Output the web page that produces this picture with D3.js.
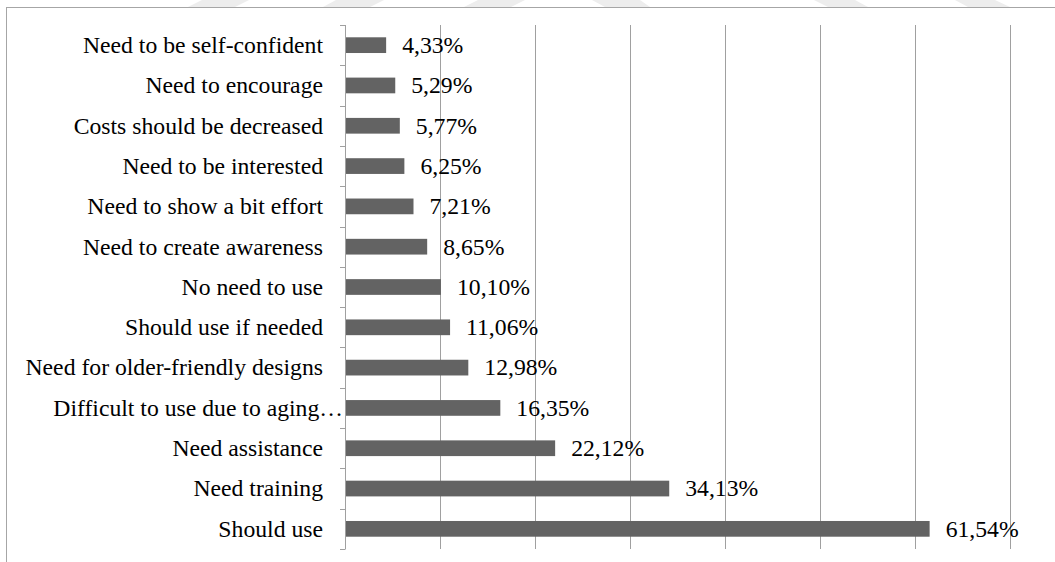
<!DOCTYPE html>
<html>
<head>
<meta charset="utf-8">
<script src="https://cdn.jsdelivr.net/npm/d3@7"></script>
<style>
  html, body { margin: 0; padding: 0; background: #fff; }
  svg { display: block; }
</style>
</head>
<body>
<svg id="chart" width="1055" height="562" font-family="'Liberation Serif', 'Times New Roman', Times, serif"></svg>
<script>
// Responses, listed top to bottom
const categories = [
  "Need to be self-confident",
  "Need to encourage",
  "Costs should be decreased",
  "Need to be interested",
  "Need to show a bit effort",
  "Need to create awareness",
  "No need to use",
  "Should use if needed",
  "Need for older-friendly designs",
  "Difficult to use due to aging…",
  "Need assistance",
  "Need training",
  "Should use"
];
const values = [4.33, 5.29, 5.77, 6.25, 7.21, 8.65, 10.10, 11.06, 12.98, 16.35, 22.12, 34.13, 61.54];
const gridTicks = [10, 20, 30, 40, 50, 60, 70];

const svg = d3.select("#chart");
const W = 1055, H = 562;
const plot = { left: 345, right: 1010, top: 25, bottom: 549 };
const serif = "'Liberation Serif', 'Times New Roman', Times, serif";
const fontSize = 23.7;

// faint background shapes along the top edge
const decor = [
  [[202, 0], [249, 0], [235, 7], [188, 7]],
  [[336, 0], [384, 0], [370, 7], [323, 7]],
  [[478, 0], [525, 0], [511, 7], [464, 7]],
  [[592, 0], [640, 0], [650, 7], [605, 7]],
  [[814, 0], [855, 0], [868, 7], [828, 7]],
  [[955, 0], [995, 0], [1010, 7], [968, 7]]
];
svg.selectAll("polygon.decor").data(decor).join("polygon")
  .attr("class", "decor")
  .attr("points", d => d.map(p => p.join(",")).join(" "))
  .attr("fill", "#ededed");

// chart frame
svg.append("rect")
  .attr("x", 6.5).attr("y", 7.5)
  .attr("width", W + 20).attr("height", H + 20)
  .attr("fill", "#fff")
  .attr("stroke", "#a6a6a6").attr("stroke-width", 1);

const x = d3.scaleLinear().domain([0, 70]).range([plot.left, plot.right]);
const y = d3.scaleBand().domain(categories)
  .range([plot.top, plot.bottom])
  .paddingInner(0.61).paddingOuter(0.305);

// vertical gridlines
svg.append("g").selectAll("line").data(gridTicks).join("line")
  .attr("x1", d => Math.round(x(d)) + 0.5).attr("x2", d => Math.round(x(d)) + 0.5)
  .attr("y1", plot.top).attr("y2", plot.bottom)
  .attr("stroke", "#a0a0a0").attr("stroke-width", 1);

// category axis with ticks on band boundaries
const step = y.step();
const axisG = svg.append("g");
axisG.append("line")
  .attr("x1", plot.left + 0.5).attr("x2", plot.left + 0.5)
  .attr("y1", plot.top).attr("y2", plot.bottom)
  .attr("stroke", "#a0a0a0");
axisG.selectAll("line.tick").data(d3.range(categories.length + 1)).join("line")
  .attr("class", "tick")
  .attr("x1", plot.left - 5).attr("x2", plot.left + 0.5)
  .attr("y1", i => Math.round(plot.top + i * step) + 0.5)
  .attr("y2", i => Math.round(plot.top + i * step) + 0.5)
  .attr("stroke", "#a0a0a0");

// category labels (the clipped one runs up to the axis)
axisG.selectAll("text").data(categories).join("text")
  .attr("x", d => d.endsWith("…") ? plot.left - 2 : plot.left - 22)
  .attr("y", d => y(d) + y.bandwidth() / 2)
  .attr("dy", "0.33em")
  .attr("text-anchor", "end")
  .attr("font-family", serif)
  .attr("font-size", fontSize)
  .attr("fill", "#000")
  .text(d => d);

// bars
const rows = categories.map((c, i) => ({ cat: c, val: values[i] }));
svg.append("g").selectAll("rect").data(rows).join("rect")
  .attr("x", x(0) + 1)
  .attr("y", d => y(d.cat))
  .attr("width", d => x(d.val) - x(0) - 1)
  .attr("height", y.bandwidth())
  .attr("fill", "#636363");

// value labels
const fmt = v => d3.format(".2f")(v).replace(".", ",") + "%";
svg.append("g").selectAll("text").data(rows).join("text")
  .attr("x", d => x(d.val) + 16)
  .attr("y", d => y(d.cat) + y.bandwidth() / 2)
  .attr("dy", "0.33em")
  .attr("font-family", serif)
  .attr("font-size", fontSize)
  .attr("fill", "#000")
  .text(d => fmt(d.val));
</script>
</body>
</html>
